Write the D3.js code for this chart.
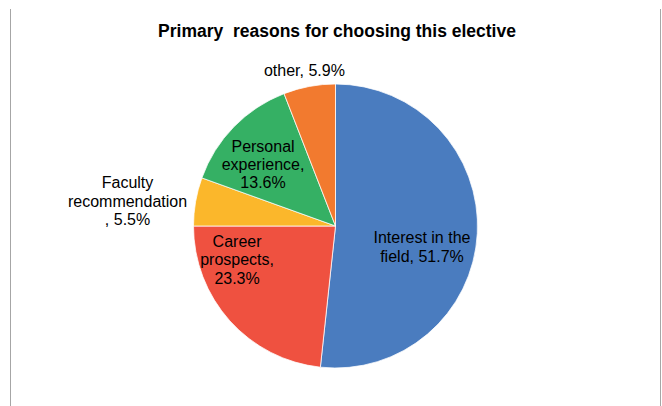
<!DOCTYPE html>
<html><head><meta charset="utf-8">
<script src="https://cdn.jsdelivr.net/npm/d3@7"></script>
<style>body{margin:0;background:#fff}svg{display:block}</style>
</head><body>
<svg id="chart" width="662" height="406"></svg>
<script>
const categories = ["Interest in the field", "Career prospects", "Faculty recommendation", "Personal experience", "other"];
const values = [51.7, 23.3, 5.5, 13.6, 5.9];
const colors = ["#4a7cbf", "#ef5140", "#fbb72b", "#35b064", "#f27a2f"];
const labelLines = [
  ["Interest in the", "field, 51.7%"],
  ["Career", "prospects,", "23.3%"],
  ["Faculty", "recommendation", ", 5.5%"],
  ["Personal", "experience,", "13.6%"],
  ["other, 5.9%"]
];
const title = "Primary\u00a0 reasons for choosing this elective";

const svg = d3.select("#chart");
const cx = 335.5, cy = 226, r = 142;

svg.append("line").attr("x1",10.5).attr("x2",10.5).attr("y1",9).attr("y2",406).attr("stroke","#a6a6a6").attr("stroke-width",1);
svg.append("line").attr("x1",660.5).attr("x2",660.5).attr("y1",9).attr("y2",406).attr("stroke","#a6a6a6").attr("stroke-width",1);

svg.append("text").attr("x",337).attr("y",37).attr("text-anchor","middle")
  .attr("font-family","Liberation Sans, Arial, sans-serif").attr("font-weight","bold").attr("font-size",17.5)
  .attr("fill","#000").text(title);

const data = categories.map((c,i)=>({cat:c, value:values[i], i}));
const pie = d3.pie().value(d=>d.value).sort(null).startAngle(0).endAngle(2*Math.PI);
const arcs = pie(data);
const arc = d3.arc().innerRadius(0).outerRadius(r);
const g = svg.append("g").attr("transform",`translate(${cx},${cy})`);
g.selectAll("path").data(arcs).join("path")
  .attr("d",arc).attr("fill",d=>colors[d.data.i]).attr("stroke","#fff").attr("stroke-width",0.75);

// label layout: polar anchor (radius fraction, angle offset from slice middle in degrees), line height
const labelLayout = [
  {rf:0.627, dAng:10.7, lh:19.5},
  {rf:0.733, dAng:23,   lh:18.3},
  {rf:1.475, dAng:-3.1, lh:18.3},
  {rf:0.669, dAng:-4,   lh:18.3},
  {rf:1.115, dAng:-0.7, lh:18}
];
arcs.forEach((a,k)=>{
  const L = labelLayout[k];
  const mid = (a.startAngle+a.endAngle)/2 + L.dAng*Math.PI/180;
  const rr = r*L.rf;
  const x = Math.sin(mid)*rr, y = -Math.cos(mid)*rr;
  const lines = labelLines[k];
  const n = lines.length;
  const t = g.append("text").attr("text-anchor","middle")
    .attr("font-family","Liberation Sans, Arial, sans-serif").attr("font-size",16).attr("fill","#000");
  lines.forEach((ln,j)=>{
    t.append("tspan").attr("x",x).attr("y", y + (j-(n-1)/2)*L.lh + 5.5).text(ln);
  });
});
</script>
</body></html>
